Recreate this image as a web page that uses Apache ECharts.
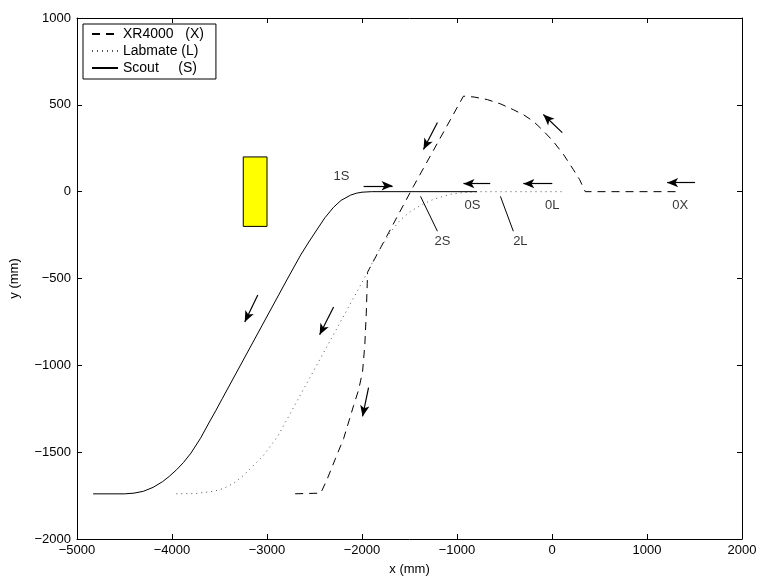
<!DOCTYPE html>
<html>
<head>
<meta charset="utf-8">
<script src="https://cdn.jsdelivr.net/npm/echarts@6/dist/echarts.min.js"></script>
<style>html,body{margin:0;padding:0;background:#fff}#c{width:760px;height:581px}</style>
</head>
<body>
<div id="c"></div>
<script>
// ---- data ----
const xTicks = [-5000, -4000, -3000, -2000, -1000, 0, 1000, 2000];
const yTicks = [-2000, -1500, -1000, -500, 0, 500, 1000];

const xr4000 = [
  [1300, 0], [350, 0], [290, 70], [224, 128], [120, 215], [14, 289], [-90, 350], [-196, 405],
  [-300, 443], [-407, 472], [-540, 505], [-680, 530], [-820, 545], [-932, 550],
  [-1458, 31], [-1941, -463], [-1945, -530], [-1955, -700], [-1970, -880], [-1994, -1036],
  [-2035, -1140], [-2088, -1231], [-2193, -1421], [-2278, -1535], [-2370, -1660], [-2435, -1736],
  [-2730, -1740]
];
const labmate = [
  [100, 0], [-785, 0], [-930, -5], [-1069, -15], [-1248, -44], [-1370, -75], [-1489, -113],
  [-1600, -165], [-1700, -233], [-1840, -355], [-1962, -485], [-2887, -1409], [-2929, -1440],
  [-3040, -1520], [-3140, -1575], [-3250, -1635], [-3350, -1679], [-3460, -1710], [-3560, -1725],
  [-3750, -1738], [-3990, -1740]
];
const scout = [
  [-790, 0], [-1900, 0], [-2000, -3], [-2060, -9], [-2120, -20], [-2220, -50], [-2300, -90],
  [-2390, -150], [-2470, -215], [-2560, -290], [-2646, -365], [-2786, -503], [-3469, -1190],
  [-3540, -1262], [-3600, -1320], [-3700, -1420], [-3800, -1505], [-3880, -1560], [-3950, -1600],
  [-4030, -1640], [-4100, -1670], [-4200, -1703], [-4300, -1725], [-4400, -1736], [-4500, -1740],
  [-4830, -1740]
];
const arrows = [
  [[-1983, 34], [-1678, 34]],
  [[-650, 46], [-932, 46]],
  [[3, 46], [-302, 46]],
  [[1506, 52], [1212, 52]],
  [[108, 340], [-91, 444]],
  [[-1206, 398], [-1353, 243]],
  [[-3097, -595], [-3234, -750]],
  [[-2299, -664], [-2446, -824]],
  [[-1931, -1128], [-1994, -1294]]
];
const pointerLines = [
  [[-1384, -27], [-1206, -228]],
  [[-543, -27], [-407, -228]]
];
const textLabels = [
  [-2215, 86, '1S'], [-838, -78, '0S'], [3, -78, '0L'], [1349, -78, '0X'],
  [-1153, -285, '2S'], [-333, -285, '2L']
];
const obstacle = [[-3250, 200], [-3000, -200]];

const seriesNames = ['XR4000', 'Labmate', 'Scout'];
const legendText = {'XR4000': 'XR4000   (X)', 'Labmate': 'Labmate (L)', 'Scout': 'Scout     (S)'};

// ---- chart ----
const font = 'Liberation Sans, Arial, Helvetica, sans-serif';
const chart = echarts.init(document.getElementById('c'), null, {renderer: 'canvas'});
const axisCommon = {
  type: 'value',
  axisLine: {show: true, onZero: false, lineStyle: {color: '#000', width: 1}},
  axisTick: {show: true, inside: true, length: 5, lineStyle: {color: '#000'}},
  splitLine: {show: false},
  nameTextStyle: {color: '#000', fontFamily: font, fontSize: 13}
};
const neg = v => (v < 0 ? '\u2212' + (-v) : '' + v);
const lineCommon = {type: 'line', symbol: 'none', smooth: false};
chart.setOption({
  animation: false,
  backgroundColor: '#fff',
  grid: {left: 76, right: 18, top: 18, bottom: 40, containLabel: false},
  textStyle: {fontFamily: font},
  legend: {
    data: seriesNames,
    orient: 'vertical', left: 83, top: 24,
    backgroundColor: '#fff', borderColor: '#000', borderWidth: 1,
    padding: [3, 12, 4, 8], itemGap: 3, itemWidth: 26, itemHeight: 12,
    itemStyle: {opacity: 0},
    formatter: n => legendText[n],
    textStyle: {color: '#000', fontSize: 14, fontFamily: font}
  },
  xAxis: [
    Object.assign({}, axisCommon, {position: 'bottom', min: -5000, max: 2000, interval: 1000,
      name: 'x (mm)', nameLocation: 'middle', nameGap: 24,
      axisLabel: {color: '#000', fontSize: 13, fontFamily: font, margin: 5, formatter: neg}}),
    Object.assign({}, axisCommon, {position: 'top', min: -5000, max: 2000, interval: 1000,
      axisLabel: {show: false}})
  ],
  yAxis: [
    Object.assign({}, axisCommon, {position: 'left', min: -2000, max: 1000, interval: 500,
      name: 'y (mm)', nameLocation: 'middle', nameGap: 56,
      axisLabel: {color: '#000', fontSize: 13, fontFamily: font, margin: 6, formatter: neg}}),
    Object.assign({}, axisCommon, {position: 'right', min: -2000, max: 1000, interval: 500,
      axisLabel: {show: false}})
  ],
  series: [
    Object.assign({name: 'XR4000', data: xr4000,
      lineStyle: {color: '#000', width: 1, type: [8, 6]}, itemStyle: {color: '#000'}}, lineCommon),
    Object.assign({name: 'Labmate', data: labmate,
      lineStyle: {color: '#555', width: 1, type: [1, 4]}, itemStyle: {color: '#555'}}, lineCommon),
    Object.assign({name: 'Scout', data: scout,
      lineStyle: {color: '#000', width: 1, type: 'solid'}, itemStyle: {color: '#000'}}, lineCommon),
    {name: 'annot', type: 'scatter', data: textLabels.map(t => [t[0], t[1], t[2]]),
      symbolSize: 0, silent: true,
      label: {show: true, position: 'inside', formatter: p => p.value[2],
        color: '#000', fontSize: 13, fontFamily: font},
      markLine: {silent: true, symbol: ['none', 'arrow'], symbolSize: [7, 11],
        label: {show: false}, lineStyle: {color: '#000', width: 1.2, type: 'solid'},
        data: arrows.map(a => [{coord: a[0]}, {coord: a[1]}])},
      markArea: {silent: true, itemStyle: {color: '#ffff00', borderColor: '#000', borderWidth: 1, opacity: 1},
        data: [[{coord: obstacle[0]}, {coord: obstacle[1]}]]}
    },
    {name: 'pointers', type: 'scatter', data: [], silent: true,
      markLine: {silent: true, symbol: ['none', 'none'], label: {show: false},
        lineStyle: {color: '#000', width: 1, type: 'solid'},
        data: pointerLines.map(a => [{coord: a[0]}, {coord: a[1]}])}
    }
  ]
});
</script>
</body>
</html>
